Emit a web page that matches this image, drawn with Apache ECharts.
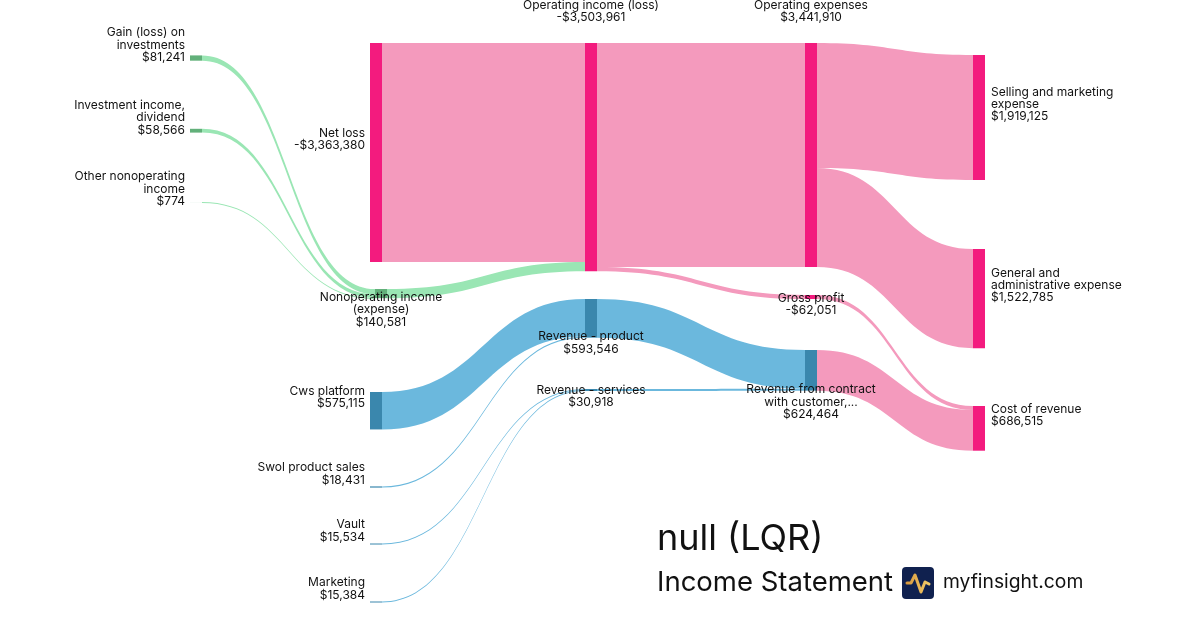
<!DOCTYPE html>
<html>
<head>
<meta charset="utf-8">
<title>null (LQR) Income Statement</title>
<script src="https://cdn.jsdelivr.net/npm/echarts@6/dist/echarts.min.js"></script>
<style>
  html, body { margin: 0; padding: 0; background: #fff; }
  #chart { width: 1200px; height: 630px; }
</style>
</head>
<body>
<div id="chart"></div>
<script>
// nodes (order = stacking order inside each column)
const nodeNames = [
  'Gain (loss) on investments', 'Investment income, dividend', 'Other nonoperating income',
  'Net loss', 'Nonoperating income (expense)',
  'Cws platform', 'Swol product sales', 'Vault', 'Marketing',
  'Operating income (loss)', 'Revenue - product', 'Revenue - services',
  'Operating expenses', 'Gross profit', 'Revenue from contract with customer',
  'Selling and marketing expense', 'General and administrative expense', 'Cost of revenue'
];
const nodeLabels = [
  'Gain (loss) on\ninvestments', 'Investment income,\ndividend', 'Other nonoperating\nincome',
  'Net loss', 'Nonoperating income\n(expense)',
  'Cws platform', 'Swol product sales', 'Vault', 'Marketing',
  'Operating income (loss)', 'Revenue - product', 'Revenue - services',
  'Operating expenses', 'Gross profit', 'Revenue from contract\nwith customer,...',
  'Selling and marketing\nexpense', 'General and\nadministrative expense', 'Cost of revenue'
];
const nodeAmounts = [
  81241, 58566, 774,
  -3363380, 140581,
  575115, 18431, 15534, 15384,
  -3503961, 593546, 30918,
  3441910, -62051, 624464,
  1919125, 1522785, 686515
];
const nodeDepths = [0, 0, 0, 1, 1, 0, 0, 0, 0, 2, 2, 2, 3, 3, 3, 4, 4, 4];

// flows
const linkSources = [
  'Gain (loss) on investments', 'Investment income, dividend', 'Other nonoperating income',
  'Net loss', 'Nonoperating income (expense)',
  'Operating income (loss)', 'Operating income (loss)',
  'Cws platform', 'Swol product sales', 'Vault', 'Marketing',
  'Revenue - product', 'Revenue - services',
  'Gross profit', 'Revenue from contract with customer',
  'Operating expenses', 'Operating expenses'
];
const linkTargets = [
  'Nonoperating income (expense)', 'Nonoperating income (expense)', 'Nonoperating income (expense)',
  'Operating income (loss)', 'Operating income (loss)',
  'Operating expenses', 'Gross profit',
  'Revenue - product', 'Revenue - product', 'Revenue - services', 'Revenue - services',
  'Revenue from contract with customer', 'Revenue from contract with customer',
  'Cost of revenue', 'Cost of revenue',
  'Selling and marketing expense', 'General and administrative expense'
];
const linkValues = [
  81241, 58566, 774,
  3363380, 140581,
  3441910, 62051,
  575115, 18431, 15534, 15384,
  593546, 30918,
  62051, 624464,
  1919125, 1522785
];

// ---- layout & style (kept apart from the data) ----
// top-left corner of each node bar in page pixels, and which side its label goes
const nodePlace = {
  'Gain (loss) on investments': [190, 55.4, 'left'],
  'Investment income, dividend': [190, 128.8, 'left'],
  'Other nonoperating income': [190, 202, 'left'],
  'Net loss': [370, 43, 'left'],
  'Nonoperating income (expense)': [375, 289, 'bottom'],
  'Cws platform': [370, 392, 'left'],
  'Swol product sales': [370, 486.4, 'left'],
  'Vault': [370, 543.5, 'left'],
  'Marketing': [370, 601.5, 'left'],
  'Operating income (loss)': [585, 43, 'top'],
  'Revenue - product': [585, 299, 'bottom'],
  'Revenue - services': [585, 389, 'bottom'],
  'Operating expenses': [805, 43, 'top'],
  'Gross profit': [805, 295, 'bottom'],
  'Revenue from contract with customer': [805, 350, 'bottom'],
  'Selling and marketing expense': [973, 55, 'right'],
  'General and administrative expense': [973, 249, 'right'],
  'Cost of revenue': [973, 406, 'right']
};
const greenNodes = ['Gain (loss) on investments', 'Investment income, dividend', 'Other nonoperating income', 'Nonoperating income (expense)'];
const blueNodes = ['Cws platform', 'Swol product sales', 'Vault', 'Marketing', 'Revenue - product', 'Revenue - services', 'Revenue from contract with customer'];
const colors = {
  green: { node: '#62b07a', link: '#9ae6b4' },
  blue: { node: '#3a87ad', link: '#6bb8dd' },
  pink: { node: '#f31b7e', link: '#f49abd' }
};
const labelSides = {
  left: { position: 'left', distance: 5, offset: [0, -13] },
  right: { position: 'right', distance: 6, offset: [0, -13] },
  top: { position: 'top', distance: 19 },
  bottom: { position: 'bottom', distance: 5, offset: [0, -12] }
};

// series box: ky = (boxH - 2 * gap) / column total, so this gives ~6.51e-5 px per dollar
const boxW = 1200;
const boxH = 288.8;

function tone(name) {
  if (greenNodes.indexOf(name) >= 0) return 'green';
  if (blueNodes.indexOf(name) >= 0) return 'blue';
  return 'pink';
}

function money(v) {
  return (v < 0 ? '-$' : '$') + Math.abs(v).toLocaleString('en-US');
}

const nodes = nodeNames.map(function (name, i) {
  const p = nodePlace[name];
  return {
    name: name,
    depth: nodeDepths[i],
    localX: p[0] / boxW,
    localY: p[1] / boxH,
    itemStyle: { color: colors[tone(name)].node },
    label: labelSides[p[2]]
  };
});

const links = linkValues.map(function (v, i) {
  const s = tone(linkSources[i]);
  const t = tone(linkTargets[i]);
  let c = 'pink';
  if (s === 'green') c = 'green';
  else if (s === 'blue' && t === 'blue') c = 'blue';
  return {
    source: linkSources[i],
    target: linkTargets[i],
    value: v,
    lineStyle: { color: colors[c].link }
  };
});

let chart = echarts.init(document.getElementById('chart'), null, { renderer: 'canvas' });

const option = {
  backgroundColor: '#ffffff',
  animation: false,
  series: [
    {
      type: 'sankey',
      left: 0,
      top: 0,
      width: boxW,
      height: boxH,
      nodeWidth: 12,
      nodeGap: 10,
      nodeAlign: 'left',
      layoutIterations: 0,
      draggable: false,
      emphasis: { disabled: true },
      itemStyle: { borderWidth: 0 },
      lineStyle: { curveness: 0.5, opacity: 1 },
      label: {
        fontFamily: 'Inter',
        fontSize: 12,
        lineHeight: 12.3,
        color: '#111',
        formatter: function (p) {
          const i = nodeNames.indexOf(p.name);
          return nodeLabels[i] + '\n' + money(nodeAmounts[i]);
        }
      },
      data: nodes,
      links: links
    }
  ],
  graphic: [
    {
      type: 'text',
      left: 657,
      top: 521,
      style: { text: 'null (LQR)', font: '36px Inter', fill: '#111' }
    },
    {
      type: 'text',
      left: 657,
      top: 569,
      style: { text: 'Income Statement', font: '27.5px Inter', fill: '#111' }
    },
    {
      type: 'group',
      left: 902,
      top: 567,
      children: [
        {
          type: 'rect',
          shape: { x: 0, y: 0, width: 32, height: 32, r: 4 },
          style: { fill: '#10214f' }
        },
        {
          type: 'polyline',
          shape: { points: [[5, 16], [9, 16], [13, 8], [19, 25], [23, 15], [27, 17]] },
          style: {
            fill: null,
            lineWidth: 3,
            lineCap: 'round',
            lineJoin: 'round',
            stroke: new echarts.graphic.LinearGradient(0, 0, 1, 0, [
              { offset: 0, color: '#d6953a' },
              { offset: 1, color: '#f6d06c' }
            ])
          }
        }
      ]
    },
    {
      type: 'text',
      left: 943,
      top: 573,
      style: { text: 'myfinsight.com', font: '19.3px Inter', fill: '#111' }
    }
  ]
};

chart.setOption(option);
window.addEventListener('resize', function () {
  chart.resize();
});
</script>
</body>
</html>
